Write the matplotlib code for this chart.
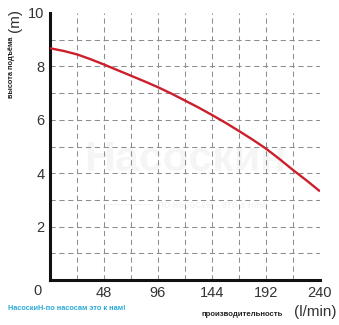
import matplotlib
matplotlib.use("Agg")
import matplotlib.pyplot as plt

# Pump performance curve: flow (l/min) vs head (m)
flow = [0, 12, 24, 36, 48, 60, 72, 84, 96, 108, 120,
        132, 144, 156, 168, 180, 192, 204, 216, 228, 240]
head = [8.68, 8.58, 8.45, 8.27, 8.07, 7.86, 7.65, 7.44, 7.22, 6.98, 6.72,
        6.46, 6.18, 5.89, 5.58, 5.26, 4.92, 4.53, 4.12, 3.73, 3.32]

x_ticks = [48, 96, 144, 192, 240]
y_ticks = [2, 4, 6, 8, 10]
x_grid = [24, 48, 72, 96, 120, 144, 168, 192, 216]
y_grid = [1, 2, 3, 4, 5, 6, 7, 8, 9]

plt.rcParams['font.family'] = ['Liberation Sans', 'DejaVu Sans']

fig = plt.figure(figsize=(3.39, 3.25), dpi=100)
ax = fig.add_axes([50 / 339, 1 - 280 / 325, 270 / 339, 267 / 325])

ax.set_xlim(0, 240)
ax.set_ylim(0, 10)

# dashed grid
for gx in x_grid:
    ax.plot([gx, gx], [0, 10], color='#8e8e8e', lw=0.75, ls=(0, (5, 3.5)), zorder=1)
for gy in y_grid:
    ax.plot([0, 240], [gy, gy], color='#8e8e8e', lw=0.75, ls=(0, (5, 3.5)), zorder=1)

# faint watermark
ax.text(0.5, 0.45, 'Насоскин', transform=ax.transAxes, ha='center', va='center',
        fontsize=31, fontweight='bold', color='#f5f5f5', zorder=0.5)
ax.text(0.5, 0.28, '—————  по насосам - это к нам', transform=ax.transAxes,
        ha='center', va='center', fontsize=7, fontweight='bold', color='#f5f5f5', zorder=0.5)

ax.plot(flow, head, color='#cc1f2b', lw=1.7, zorder=3, solid_capstyle='butt')

for s in ['top', 'right']:
    ax.spines[s].set_visible(False)
for s in ['left', 'bottom']:
    ax.spines[s].set_linewidth(2.2)
    ax.spines[s].set_color('#111111')

ax.set_xticks(x_ticks)
ax.set_yticks(y_ticks)
ax.tick_params(length=0, labelsize=10.5, labelcolor='#333333', pad=4)

fig.text(38 / 339, 1 - 291 / 325, '0', ha='center', va='center', fontsize=10.5, color='#333333')

# axis labels
fig.text(242 / 339, 1 - 314 / 325, 'производительность', ha='center', va='center',
         fontsize=5.6, fontweight='bold', color='#222222')
fig.text(315 / 339, 1 - 312 / 325, '(l/min)', ha='center', va='center',
         fontsize=11, color='#333333')
fig.text(12 / 339, 1 - 67 / 325, 'высота подъёма', ha='center', va='center',
         fontsize=5.3, fontweight='bold', color='#222222', rotation=90)
fig.text(15 / 339, 1 - 21 / 325, '(m)', ha='center', va='center',
         fontsize=11, color='#333333', rotation=90)

fig.text(8 / 339, 1 - 309 / 325, 'НасоскиН-по насосам это к нам!', ha='left', va='center',
         fontsize=5.3, fontweight='bold', color='#2aaad8')

fig.savefig('out.png', dpi=100)
